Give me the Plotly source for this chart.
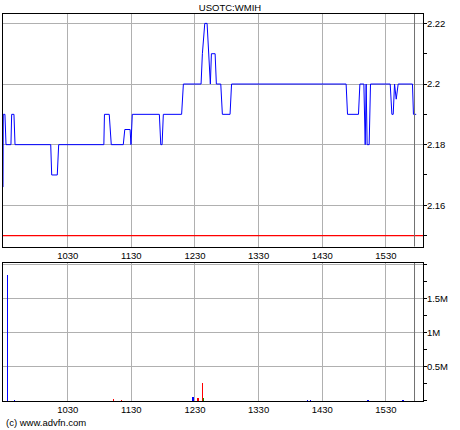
import plotly.graph_objects as go

TITLE = "USOTC:WMIH"
CREDIT = "(c) www.advfn.com"

PRICE_TIMES = [
    "09:29:00", "09:29:15", "09:30:50", "09:31:50", "09:36:30", "09:37:10", "09:39:20", "09:40:20",
    "10:14:00", "10:14:55", "10:20:10", "10:21:30", "11:04:05", "11:04:40", "11:09:10", "11:11:05",
    "11:22:25", "11:23:50", "11:28:50", "11:29:40", "11:30:55", "11:56:25", "11:57:45", "11:59:00",
    "12:00:10", "12:17:25", "12:19:05", "12:35:45", "12:37:00", "12:39:15", "12:41:25", "12:42:50",
    "12:43:20", "12:44:30", "12:45:30", "12:49:00", "12:50:10", "12:54:20", "12:55:50", "13:03:05",
    "13:04:30", "14:52:30", "14:53:50", "15:04:10", "15:05:30", "15:09:15", "15:10:30", "15:11:25",
    "15:12:20", "15:14:15", "15:15:30", "15:34:05", "15:35:40", "15:36:55", "15:38:10", "15:39:45",
    "15:41:35", "15:55:05", "15:56:00", "15:58:35",
]
PRICE_VALUES = [
    2.166, 2.19, 2.19, 2.18, 2.18, 2.19, 2.19, 2.18,
    2.18, 2.17, 2.17, 2.18, 2.18, 2.19, 2.19, 2.18,
    2.18, 2.185, 2.185, 2.18, 2.19, 2.19, 2.18, 2.18,
    2.19, 2.19, 2.20, 2.20, 2.21, 2.22, 2.22, 2.21,
    2.21, 2.20, 2.21, 2.21, 2.20, 2.20, 2.19, 2.19,
    2.20, 2.20, 2.19, 2.19, 2.20, 2.20, 2.18, 2.20,
    2.18, 2.18, 2.20, 2.20, 2.19, 2.19, 2.20, 2.195,
    2.20, 2.20, 2.19, 2.19,
]
PREV_CLOSE = 2.15

VOL_TIMES = ["09:33", "09:40", "11:13", "11:21", "12:28", "12:33", "12:37", "12:38",
             "14:16", "14:19", "15:13", "15:46"]
VOL_VALUES = [1850000, 15000, 30000, 15000, 60000, 50000, 264000, 50000,
              12000, 12000, 12000, 12000]
VOL_SIDE = ["mid", "mid", "down", "down", "mid", "down", "down", "up",
            "mid", "mid", "mid", "mid"]

TIME_TICKS = ["1030", "1130", "1230", "1330", "1430", "1530"]
PRICE_TICKS = [2.16, 2.18, 2.20, 2.22]
PRICE_TICK_LABELS = ["2.16", "2.18", "2.2", "2.22"]
VOL_TICKS = [500000, 1000000, 1500000, 2000000]
VOL_TICK_LABELS = ["0.5M", "1M", "1.5M", ""]
SESSION_MARK = "15:57"
X_START, X_END = "09:29", "16:05"


def to_min(s):
    parts = s.split(":")
    h, m = int(parts[0]), int(parts[1])
    sec = int(parts[2]) if len(parts) > 2 else 0
    return h * 60 + m + sec / 60.0


px_ = [to_min(t) for t in PRICE_TIMES]
vx = [to_min(t) for t in VOL_TIMES]
tickvals = [int(t[:2]) * 60 + int(t[2:]) for t in TIME_TICKS]
side_color = {"mid": "#0000ff", "down": "#ff0000", "up": "#00a000"}
vcol = [side_color[s] for s in VOL_SIDE]

FONT = "Liberation Sans, Arial, sans-serif"
GRID = "#b0b0b0"

fig = go.Figure()
fig.add_trace(go.Scatter(x=px_, y=PRICE_VALUES, mode="lines",
                         line=dict(color="#0000ff", width=1), xaxis="x", yaxis="y",
                         showlegend=False, hoverinfo="skip"))
fig.add_trace(go.Bar(x=vx, y=VOL_VALUES, width=1.3, marker=dict(color=vcol, line=dict(width=0)),
                     xaxis="x2", yaxis="y2", showlegend=False, hoverinfo="skip"))

xr = [to_min(X_START), to_min(X_END)]
common_x = dict(range=xr, tickvals=tickvals, ticktext=TIME_TICKS, showgrid=True,
                gridcolor=GRID, gridwidth=1, showline=True, linecolor="black", linewidth=1,
                mirror=True, ticks="", zeroline=False,
                tickfont=dict(family=FONT, size=9.5, color="black"))

fig.update_layout(
    width=460, height=430,
    margin=dict(l=3, r=37, t=14, b=29),
    paper_bgcolor="white", plot_bgcolor="white",
    font=dict(family=FONT, size=9.5, color="black"),
    title=dict(text=TITLE, x=0.5, xref="container", xanchor="center",
               y=1 - 7.5 / 430, yref="container", yanchor="middle",
               font=dict(family=FONT, size=9.5, color="black")),
    xaxis=dict(domain=[0, 1], anchor="y", **common_x),
    yaxis=dict(domain=[0.3992, 1], anchor="x", side="right", range=[2.1464, 2.2231],
               tickvals=PRICE_TICKS, ticktext=PRICE_TICK_LABELS, showgrid=True,
               gridcolor=GRID, gridwidth=1, showline=True, linecolor="black", linewidth=1,
               mirror=True, ticks="outside", ticklen=3, tickcolor="black", zeroline=False,
               ticklabelstandoff=-2,
               minor=dict(dtick=0.01, tick0=2.15, ticks="outside", ticklen=3,
                          tickcolor="black", showgrid=False),
               tickfont=dict(family=FONT, size=9.5, color="black")),
    xaxis2=dict(domain=[0, 1], anchor="y2", **common_x),
    yaxis2=dict(domain=[0, 0.3566], anchor="x2", side="right", range=[0, 2020000],
                tickvals=VOL_TICKS, ticktext=VOL_TICK_LABELS, showgrid=True,
                gridcolor=GRID, gridwidth=1, showline=True, linecolor="black", linewidth=1,
                mirror=True, ticks="outside", ticklen=3, tickcolor="black", zeroline=False,
                ticklabelstandoff=-2,
                minor=dict(dtick=250000, tick0=0, ticks="outside", ticklen=3,
                           tickcolor="black", showgrid=False),
                tickfont=dict(family=FONT, size=9.5, color="black")),
    bargap=0,
)

fig.add_shape(type="line", xref="x domain", yref="y", x0=0, x1=1,
              y0=PREV_CLOSE, y1=PREV_CLOSE, line=dict(color="#ff0000", width=1.2))
for xa, ya in (("x", "y"), ("x2", "y2")):
    fig.add_shape(type="line", x0=to_min(SESSION_MARK), x1=to_min(SESSION_MARK),
                  xref=xa, y0=0, y1=1, yref=ya + " domain",
                  line=dict(color="#707070", width=1))

fig.add_annotation(text=CREDIT, xref="paper", yref="paper", x=0.0025,
                   y=(401 - 422.7) / 387, xanchor="left", yanchor="middle",
                   showarrow=False, font=dict(family=FONT, size=9.5, color="black"))

fig.write_html("out.html", config={"displayModeBar": False, "staticPlot": True},
               post_script="document.body.style.margin='0';document.body.style.overflow='hidden';")
